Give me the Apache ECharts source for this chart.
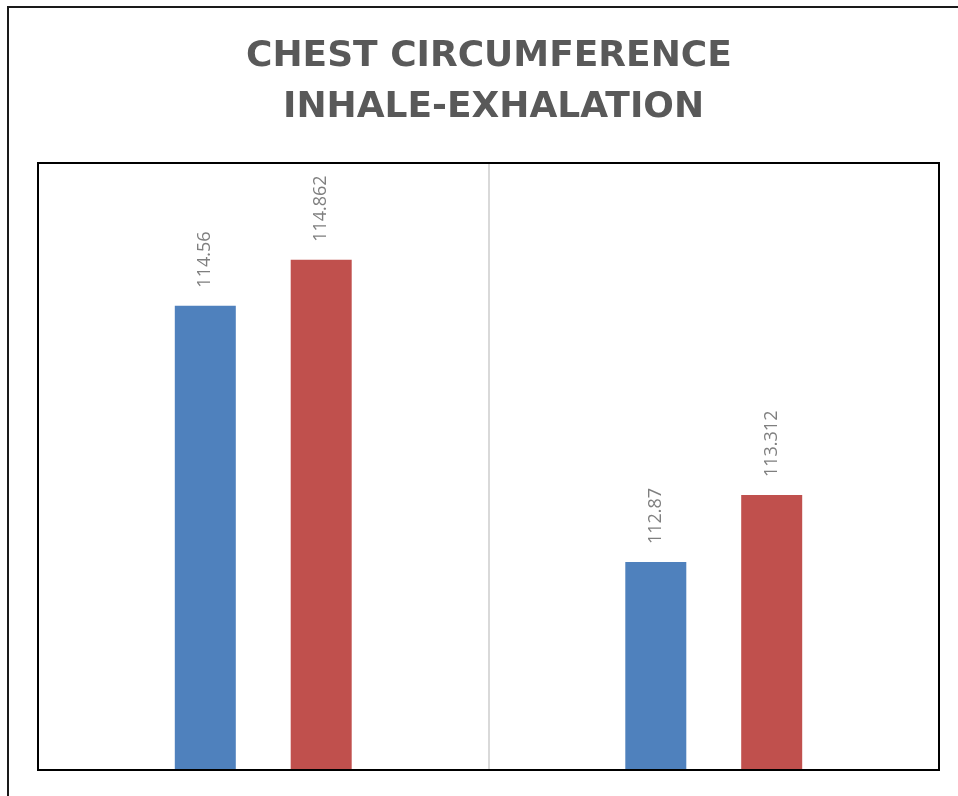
<!DOCTYPE html>
<html>
<head>
<meta charset="utf-8">
<script src="https://cdn.jsdelivr.net/npm/echarts@6/dist/echarts.min.js"></script>
<style>
  html, body { margin: 0; padding: 0; background: #fff; }
  #chart-container { width: 958px; height: 796px; }
</style>
</head>
<body>
<div id="chart-container"></div>
<script>
const categories = ["Group 1", "Group 2"];
const inhale = [114.56, 112.87];
const exhale = [114.862, 113.312];
const titleLines = ["CHEST CIRCUMFERENCE", "INHALE-EXHALATION"];

(() => {
  var dom = document.getElementById("chart-container");
  var chart = echarts.init(dom, null, { renderer: "canvas" });

  const label = {
    show: true,
    position: "top",
    rotate: 90,
    align: "left",
    verticalAlign: "middle",
    distance: 18,
    color: "#7f7f7f",
    fontFamily: "Open Sans",
    fontSize: 18,
  };

  const titleStyle = {
    fontFamily: "DejaVu Sans",
    fontWeight: "bold",
    fontSize: 36,
    color: "#595959",
  };

  const option = {
    animation: false,
    backgroundColor: "#fff",
    title: [
      { text: titleLines[0], left: 246, top: 39, padding: 0, textStyle: titleStyle },
      { text: titleLines[1], left: 283, top: 90, padding: 0, textStyle: titleStyle },
    ],
    graphic: [
      {
        type: "rect",
        shape: { x: 8, y: 7, width: 1000, height: 1000 },
        style: { fill: "none", stroke: "#1a1a1a", lineWidth: 2 },
        silent: true,
      },
      {
        // plot area frame drawn above the split line
        type: "rect",
        z: 100,
        shape: { x: 38, y: 163, width: 901, height: 607 },
        style: { fill: "none", stroke: "#000", lineWidth: 2 },
        silent: true,
      },
    ],
    grid: {
      left: 38,
      right: 19,
      top: 163,
      bottom: 26,
    },
    xAxis: {
      type: "category",
      data: categories,
      axisLine: { show: false },
      axisTick: { show: false },
      axisLabel: { show: false },
      splitLine: { show: true, lineStyle: { color: "#d9d9d9", width: 2 } },
    },
    yAxis: {
      type: "value",
      min: 111.5,
      max: 115.5,
      axisLine: { show: false },
      axisTick: { show: false },
      axisLabel: { show: false },
      splitLine: { show: false },
    },
    series: [
      {
        name: "Inhale",
        type: "bar",
        data: inhale,
        barWidth: 61,
        barGap: "90%",
        itemStyle: { color: "#4f81bd" },
        label: label,
      },
      {
        name: "Exhale",
        type: "bar",
        data: exhale,
        barWidth: 61,
        itemStyle: { color: "#c0504d" },
        label: label,
      },
    ],
  };
  chart.setOption(option);
  window.addEventListener("resize", chart.resize);
})();
</script>
</body>
</html>
